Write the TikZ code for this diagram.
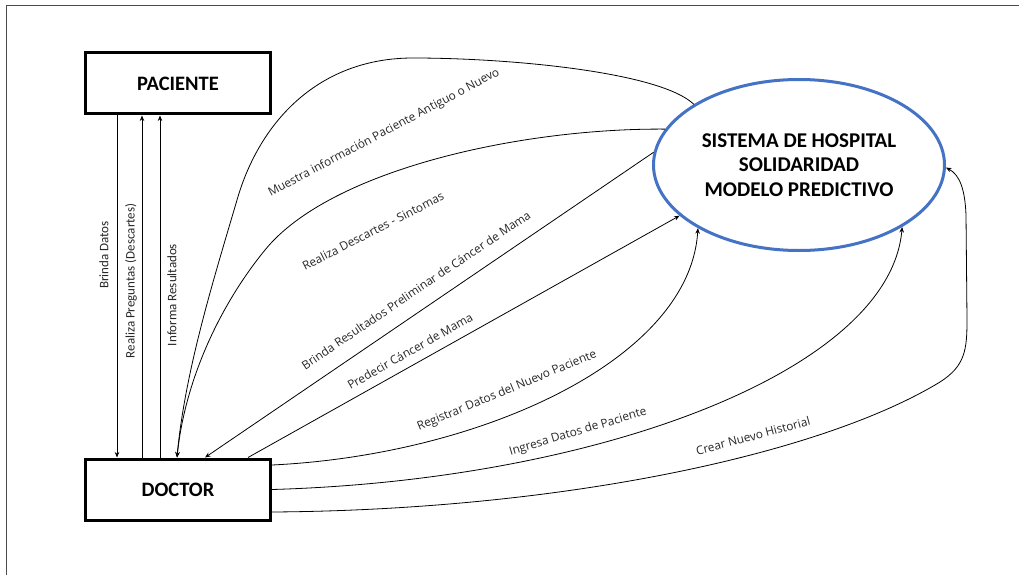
\documentclass[tikz,border=0pt]{standalone}
\usepackage{fontspec}
\setmainfont{Carlito}
\newfontfamily\lblfont{Open Sans}
\usetikzlibrary{arrows.meta,shapes.geometric}
\definecolor{sysblue}{RGB}{68,114,196}

\begin{document}
\begin{tikzpicture}[x=1pt,y=-1pt,
  entity/.style={draw=black,line width=3pt,minimum width=185pt,minimum height=61pt,
    inner sep=0pt,font=\fontsize{20.5}{24}\selectfont\bfseries},
  process/.style={ellipse,draw=sysblue,line width=3pt,minimum width=291pt,minimum height=171pt,
    inner sep=0pt,align=center,font=\fontsize{21}{24.5}\selectfont\bfseries},
  flow/.style={draw=black,line width=0.8pt,-{Stealth[length=5.5pt,width=4.5pt]}},
  flowlbl/.style={font=\lblfont\fontsize{11.8}{13}\selectfont,text=black!85,inner sep=0pt},
  vlbl/.style={font=\fontsize{13}{14}\selectfont,text=black!85,rotate=90,inner sep=0pt},
]
\useasboundingbox (0,0) rectangle (1019,575);

% page frame
\draw[line width=0.8pt,black!70] (6,575) -- (6,5) -- (1019,5);

% entities and process
\node[entity] (pac) at (178,83.5) {PACIENTE};
\node[entity] (doc) at (178,489.5) {DOCTOR};
\node[process] (sys) at (799,165) {SISTEMA DE HOSPITAL\\SOLIDARIDAD\\MODELO PREDICTIVO};

% doctor <-> patient
\draw[flow] ([xshift=-61pt]pac.south) -- ([xshift=-61pt]doc.north);
\draw[flow] ([xshift=-36pt]doc.north) -- ([xshift=-36pt]pac.south);
\draw[flow] ([xshift=-18pt]doc.north) -- ([xshift=-18pt]pac.south);
\node[vlbl] (lbd) at (104,255) {Brinda Datos};
\node[vlbl] (lrp) at (131,281) {Realiza Preguntas (Descartes)};
\node[vlbl] (lir) at (172,295) {Informa Resultados};

% system -> doctor
\draw[flow] (sys.150) .. controls (660,72) and (510,58) .. (413,58)
  .. controls (320,58) and (260,120) .. (237,200)
  .. controls (215,275) and (185,370) .. ([xshift=-1pt]doc.north);
\draw[flow] (sys.165) .. controls (520,128) and (330,170) .. (265,250)
  .. controls (220,305) and (185,380) .. ([xshift=-1pt]doc.north);
\draw[flow] (sys.175) -- ([xshift=27pt]doc.north);

% doctor -> system
\draw[flow] ([xshift=70pt]doc.north) -- (sys.203);
\draw[flow] ([yshift=24.5pt]doc.east) .. controls (480,455) and (690,360) .. (sys.212);
\draw[flow] (doc.east) .. controls (600,480) and (890,370) .. (sys.329);
\draw[flow] ([yshift=-22.5pt]doc.east) .. controls (560,510) and (820,455) .. (940,382)
  .. controls (965,366) and (967,350) .. (967,320) -- (966,215)
  .. controls (965,190) and (960,175) .. (sys.359);

% flow labels
\node[flowlbl,rotate=28] (l1) at (384,133) {Muestra información Paciente Antiguo o Nuevo};
\node[flowlbl,rotate=27] (l2) at (373,231) {Realiza Descartes - Sintomas};
\node[flowlbl,rotate=34] (l3) at (416,290) {Brinda Resultados Preliminar de Cáncer de Mama};
\node[flowlbl,rotate=29.5] (l4) at (410,351) {Predecir Cáncer de Mama};
\node[flowlbl,rotate=22.5] (l5) at (507,391) {Registrar Datos del Nuevo Paciente};
\node[flowlbl,rotate=16.5] (l6) at (578,432) {Ingresa Datos de Paciente};
\node[flowlbl,rotate=15] (l7) at (753,436) {Crear Nuevo Historial};
\end{tikzpicture}
\end{document}
